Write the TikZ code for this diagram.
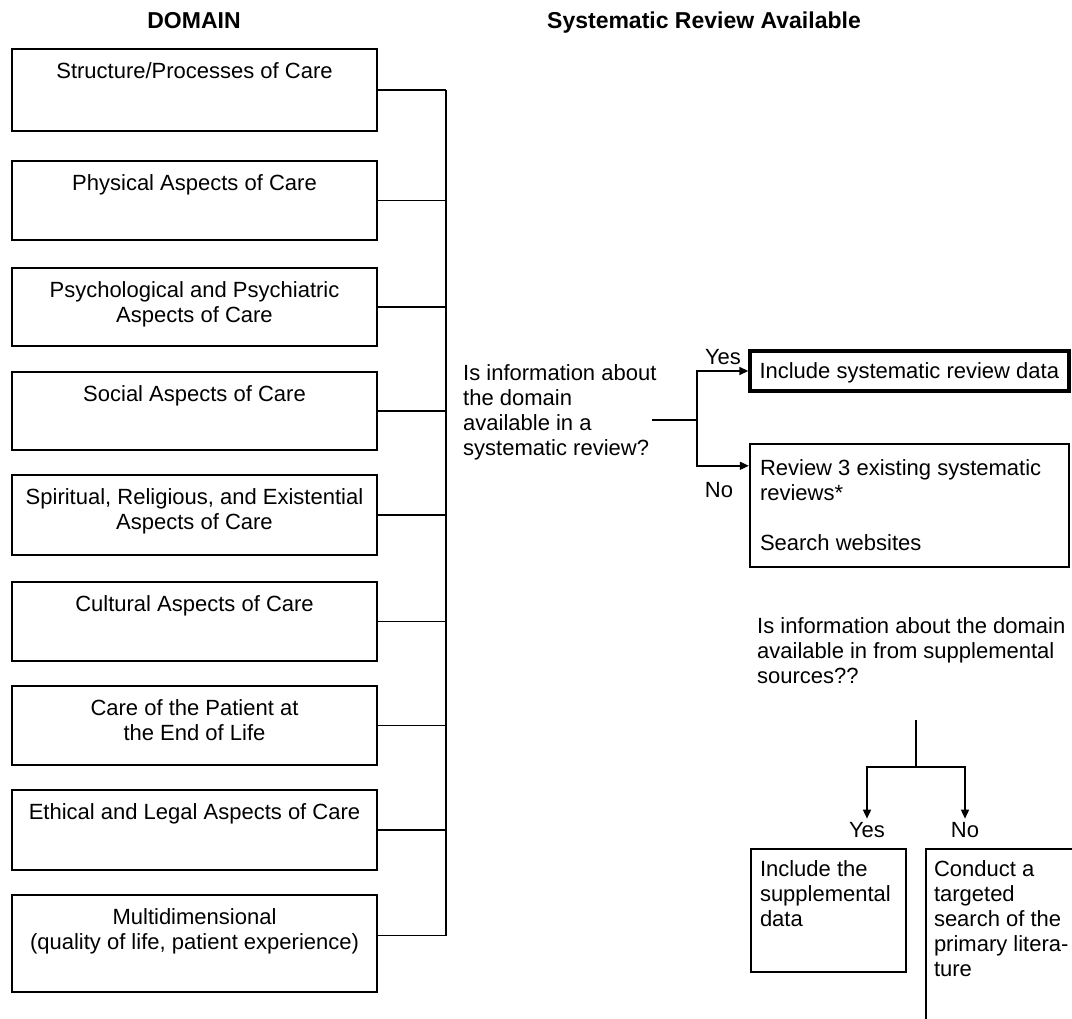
\documentclass[tikz,border=0pt]{standalone}
\usepackage{fontspec}
\setmainfont{Liberation Sans}
\usetikzlibrary{arrows.meta, positioning}

\begin{document}
\begin{tikzpicture}[x=1pt, y=-1pt,
      font=\fontsize{22}{25}\selectfont,
      dombox/.style={draw, line width=2.4pt, minimum width=365pt, inner sep=0pt},
      dtext/.style={align=center, inner sep=0pt},
      outbox/.style={draw, line width=2.4pt, inner sep=0pt},
      otext/.style={anchor=north west, align=left, inner sep=0pt},
      head/.style={font=\fontsize{23}{27}\selectfont\bfseries, anchor=base, inner sep=0pt},
      lbl/.style={anchor=base, inner sep=3pt},
      link/.style={line width=1.6pt},
      arrow/.style={line width=1.6pt, -{Triangle[length=9pt, width=8pt]}} ]

    \clip (0,0) rectangle (1072,1019);

    \node[head] (hdom) at (194,29) {DOMAIN};
    \node[head] (hrev) at (704,29) {Systematic Review Available};

    \node[dombox, minimum height=82pt] (d1) at (194.5,90) {};
    \node[dombox, minimum height=79pt] (d2) at (194.5,200.5) {};
    \node[dombox, minimum height=78pt] (d3) at (194.5,307) {};
    \node[dombox, minimum height=78pt] (d4) at (194.5,411) {};
    \node[dombox, minimum height=80pt] (d5) at (194.5,515) {};
    \node[dombox, minimum height=79pt] (d6) at (194.5,621.5) {};
    \node[dombox, minimum height=79pt] (d7) at (194.5,725.5) {};
    \node[dombox, minimum height=80pt] (d8) at (194.5,830) {};
    \node[dombox, minimum height=97pt] (d9) at (194.5,943.5) {};

    \node[dtext, below=15pt of d1.north] (t1) {Structure/Processes of Care};
    \node[dtext, below=15pt of d2.north] (t2) {Physical Aspects of Care};
    \node[dtext, below=15pt of d3.north] (t3) {Psychological and Psychiatric\\ Aspects of Care};
    \node[dtext, below=15pt of d4.north] (t4) {Social Aspects of Care};
    \node[dtext, below=15pt of d5.north] (t5) {Spiritual, Religious, and Existential\\ Aspects of Care};
    \node[dtext, below=15pt of d6.north] (t6) {Cultural Aspects of Care};
    \node[dtext, below=15pt of d7.north] (t7) {Care of the Patient at\\ the End of Life};
    \node[dtext, below=15pt of d8.north] (t8) {Ethical and Legal Aspects of Care};
    \node[dtext, below=15pt of d9.north] (t9) {Multidimensional\\ (quality of life, patient experience)};

    \coordinate (bus) at (446,0);
    \coordinate (d9c) at ([yshift=8pt]d9.east);
    \draw[link] (d1.east) -- (d1.east -| bus);
    \draw[link] (d2.east) -- (d2.east -| bus);
    \draw[link] (d3.east) -- (d3.east -| bus);
    \draw[link] (d4.east) -- (d4.east -| bus);
    \draw[link] (d5.east) -- (d5.east -| bus);
    \draw[link] (d6.east) -- (d6.east -| bus);
    \draw[link] (d7.east) -- (d7.east -| bus);
    \draw[link] (d8.east) -- (d8.east -| bus);
    \draw[link] (d9c) -- (d9c -| bus);
    \draw[link] (d1.east -| bus) -- (d9c -| bus);

    \node[otext] (q1) at (463,364)
      {Is information about\\ the domain\\ available in a\\ systematic review?};

    \node[outbox, line width=3.4pt, minimum width=319pt, minimum height=40pt] (inc) at (909.5,371) {};
    \node[otext, below right=13pt and 11pt of inc.north west] (inct) {Include systematic review data};
    \node[outbox, minimum width=319pt, minimum height=123pt] (rev) at (909.5,505.5) {};
    \node[otext, below right=17pt and 11pt of rev.north west] (revt)
      {Review 3 existing systematic\\ reviews*\\[25pt] Search websites};

    \coordinate (qout) at (652,420);
    \coordinate (fork1) at (697,420);
    \draw[link] (qout) -- (fork1);
    \draw[arrow] (fork1) |- (inc.west);
    \draw[arrow] (fork1) |- ([yshift=-23pt]rev.north west);
    \node[lbl] (yes1) at (723,365) {Yes};
    \node[lbl] (no1) at (719,497) {No};

    \node[otext] (q2) at (757,617)
      {Is information about the domain\\ available in from supplemental\\ sources??};

    \node[outbox, minimum width=155pt, minimum height=123pt] (sup) at (828.5,910.5) {};
    \node[otext, below right=13pt and 10pt of sup.north west] (supt) {Include the\\ supplemental\\ data};
    \node[outbox, minimum width=154pt, minimum height=181pt] (con) at (1003,939.5) {};
    \node[otext, below right=13pt and 9pt of con.north west] (cont)
      {Conduct a\\ targeted\\ search of the\\ primary litera-\\ ture};

    \node[lbl] (yes2) at (867,837) {Yes};
    \node[lbl] (no2) at (965,837) {No};
    \coordinate (q2out) at (916,720);
    \coordinate (fork2) at (916,767);
    \draw[link] (q2out) -- (fork2);
    \draw[arrow] (fork2) -| (yes2.north);
    \draw[arrow] (fork2) -| (no2.north);
  \end{tikzpicture}
\end{document}
